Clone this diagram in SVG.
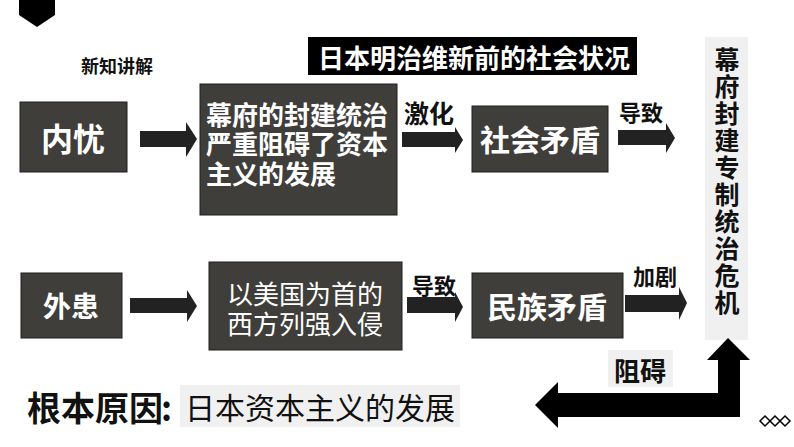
<svg xmlns="http://www.w3.org/2000/svg" width="794" height="447" viewBox="0 0 794 447">
<style>
text{font-family:"Noto Sans CJK SC","Noto Sans",sans-serif;dominant-baseline:central}
.box{fill:#3f3e3a;stroke:#1e1e1e;stroke-width:1}
.wb{fill:#fff;font-weight:700}
.wn{fill:#fff;font-weight:400}
.kb{fill:#111;font-weight:700}
.arr{fill:#222}
</style>
<rect width="794" height="447" fill="#fff"/>
<polygon points="19,0 55,0 55,15 37,27 19,15" fill="#000"/>
<text x="117" y="65" class="kb" font-size="18" text-anchor="middle">新知讲解</text>
<g id="title">
<rect x="308" y="37" width="329" height="38" fill="#000"/>
<text x="474" y="56" class="wb" font-size="26" text-anchor="middle">日本明治维新前的社会状况</text>
</g>
<g id="neiyou">
<rect class="box" x="20" y="102" width="107" height="70"/>
<text x="73" y="137" class="wb" font-size="32" text-anchor="middle">内忧</text>
</g>
<g id="mufu">
<rect class="box" x="200" y="84" width="197" height="131"/>
<text class="wb" font-size="26"><tspan x="206" y="113">幕府的封建统治</tspan><tspan x="206" y="142">严重阻碍了资本</tspan><tspan x="206" y="172">主义的发展</tspan></text>
</g>
<g id="shehui">
<rect class="box" x="472" y="106" width="136" height="66"/>
<text x="540" y="138" class="wb" font-size="30" text-anchor="middle">社会矛盾</text>
</g>
<g id="crisis">
<rect x="705" y="37" width="43" height="303" fill="#f0f0f0"/>
<text x="727" y="47" class="kb" font-size="25" writing-mode="tb" letter-spacing="2" style="dominant-baseline:auto">幕府封建专制统治危机</text>
</g>
<g id="waihuan">
<rect class="box" x="21" y="273" width="101" height="65"/>
<text x="71" y="305" class="wb" font-size="28" text-anchor="middle">外患</text>
</g>
<g id="xifang">
<rect class="box" x="209" y="262" width="193" height="88"/>
<text class="wn" font-size="26" text-anchor="middle"><tspan x="305" y="292">以美国为首的</tspan><tspan x="305" y="322">西方列强入侵</tspan></text>
</g>
<g id="minzu">
<rect class="box" x="472" y="273" width="151" height="65"/>
<text x="547" y="305" class="wb" font-size="30" text-anchor="middle">民族矛盾</text>
</g>
<g id="genben">
<text x="27" y="406" class="kb" font-size="34">根本原因<tspan dx="-2">:</tspan></text>
<rect x="180" y="385" width="280" height="42" fill="#f0f0f0"/>
<text x="320" y="406" fill="#111" font-size="30" text-anchor="middle">日本资本主义的发展</text>
</g>
<g id="connectors">
<polygon class="arr" points="140,131 186,131 186,122 197,139 186,157 186,147 140,147"/>
<polygon class="arr" points="402,132 455,132 455,127 463,140 455,153 455,147 402,147"/>
<polygon class="arr" points="618,130 666,130 666,123 675,138 666,153 666,145 618,145"/>
<polygon class="arr" points="130,298 187,298 187,290 197,306 187,322 187,313 130,313"/>
<polygon class="arr" points="407,297 455,297 455,292 463,307 455,322 455,313 407,313"/>
<polygon class="arr" points="625,295 679,295 679,287 687,303 679,320 679,312 625,312"/>
<polygon fill="#000" points="728,338 750,360 740,360 740,417 558,417 558,428 535,405 558,382 558,393 718,393 718,360 707,360"/>
<text x="429" y="112" class="kb" font-size="25" text-anchor="middle">激化</text>
<text x="641" y="111" class="kb" font-size="22" text-anchor="middle">导致</text>
<text x="434" y="284" class="kb" font-size="22" text-anchor="middle">导致</text>
<text x="655" y="275" class="kb" font-size="22" text-anchor="middle">加剧</text>
<rect x="608" y="350" width="65" height="37" fill="#f0f0f0"/>
<text x="640" y="369" class="kb" font-size="26" text-anchor="middle">阻碍</text>
</g>
<g fill="none" stroke="#000" stroke-width="1.5">
<polygon points="760,421 765,416 770,421 765,426"/>
<polygon points="770,421 775,416 780,421 775,426"/>
<polygon points="780,421 785,416 790,421 785,426"/>
</g>
</svg>
